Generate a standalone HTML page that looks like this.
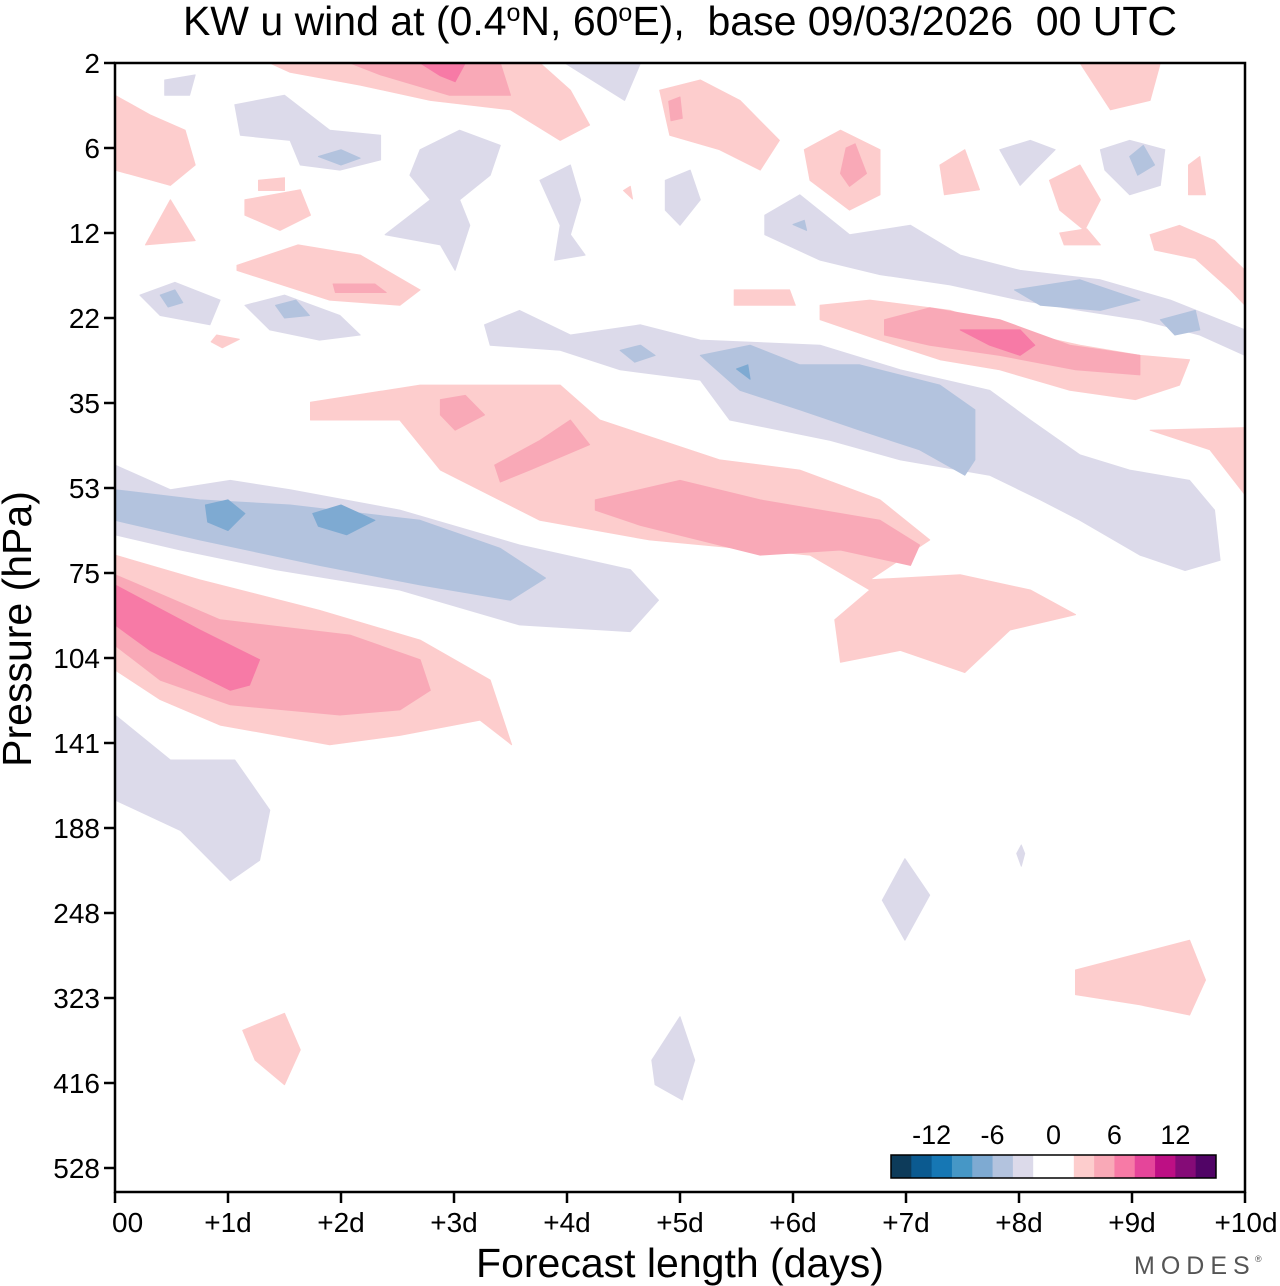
<!DOCTYPE html>
<html><head><meta charset="utf-8">
<style>
html,body{margin:0;padding:0;background:#fff;}
svg{display:block;font-family:"Liberation Sans",sans-serif;}
</style></head>
<body>
<svg id="chart" width="1280" height="1286" viewBox="0 0 1280 1286" xmlns="http://www.w3.org/2000/svg">
<text x="680" y="35" font-size="41" text-anchor="middle" xml:space="preserve" style="white-space:pre">KW u wind at (0.4<tspan dy="-14" font-size="25">o</tspan><tspan dy="14">N, 60</tspan><tspan dy="-14" font-size="25">o</tspan><tspan dy="14">E),  base 09/03/2026  00 UTC</tspan></text>
<g id="contours"></g>
<rect x="115" y="63" width="1130" height="1129" fill="none" stroke="#000" stroke-width="2.5"/>
<g id="axes"></g>
<g id="colorbar"></g>
<text transform="translate(31,629) rotate(-90)" font-size="41" text-anchor="middle">Pressure (hPa)</text>
<text x="680" y="1277" font-size="41" text-anchor="middle">Forecast length (days)</text>
<text x="1134" y="1274" font-size="25" fill="#555" letter-spacing="6">MODES</text>
<text x="1255" y="1262" font-size="9" fill="#555">®</text>
</svg>
<script>
const xTickLabels=["00","+1d","+2d","+3d","+4d","+5d","+6d","+7d","+8d","+9d","+10d"];
const xTickDays=[0,1,2,3,4,5,6,7,8,9,10];
const yTickLabels=["2","6","12","22","35","53","75","104","141","188","248","323","416","528"];
const cbLevels=[-16,-14,-12,-10,-8,-6,-4,-2,0,2,4,6,8,10,12,14,16];
const cbColors=["#0d3b5a","#0b5a90","#1677b4","#4697c6","#7eaad2","#b3c3de","#dcdaea","#ffffff","#ffffff","#fdcdcd","#f9a9b7","#f77aa6","#e5459a","#bd0f84","#850b77","#510466"];
const cbTickValues=[-12,-6,0,6,12];
const regLavender=[
[[0,4.73],[0.49,5.02],[1.02,4.91],[1.55,5.02],[2.52,5.26],[3.58,5.67],[4.56,5.96],[4.81,6.32],[4.56,6.69],[3.58,6.61],[2.52,6.2],[1.42,5.96],[0.58,5.73],[0,5.55]],
[[0,7.67],[0.49,8.2],[1.06,8.2],[1.37,8.79],[1.28,9.38],[1.02,9.62],[0.58,9.03],[0,8.67]],
[[3.27,3.08],[3.58,2.91],[4.03,3.2],[4.65,3.08],[5.18,3.26],[6.24,3.32],[6.95,3.61],[7.74,3.85],[8.1,4.2],[8.54,4.61],[8.98,4.79],[9.51,4.91],[9.73,5.26],[9.78,5.85],[9.47,5.97],[9.07,5.79],[8.54,5.38],[8.19,5.14],[7.74,4.85],[6.95,4.67],[6.33,4.44],[5.44,4.2],[5.18,3.73],[4.47,3.61],[3.94,3.38],[3.32,3.32]],
[[5.75,1.79],[6.06,1.55],[6.5,2.02],[7.04,1.91],[7.48,2.26],[8.01,2.44],[8.72,2.55],[9.34,2.79],[10,3.14],[10,3.44],[9.6,3.2],[9.07,3.02],[8.54,2.91],[8.01,2.79],[7.39,2.61],[6.77,2.49],[6.24,2.32],[5.75,2.02]],
[[0.44,0.2],[0.71,0.14],[0.66,0.38],[0.44,0.38]],
[[1.06,0.49],[1.5,0.38],[1.9,0.79],[2.35,0.85],[2.35,1.14],[1.99,1.26],[1.64,1.2],[1.55,0.91],[1.11,0.85]],
[[2.7,1.02],[3.05,0.79],[3.41,0.97],[3.32,1.32],[3.05,1.61],[3.14,1.91],[3.01,2.44],[2.88,2.14],[2.39,2.02],[2.79,1.61],[2.61,1.32]],
[[3.76,1.38],[4.03,1.2],[4.12,1.61],[4.03,2.02],[4.16,2.26],[3.89,2.32],[3.94,1.91]],
[[3.98,0],[4.65,0],[4.51,0.44]],
[[4.87,1.38],[5.09,1.26],[5.18,1.61],[5,1.91],[4.87,1.73]],
[[7.83,1.02],[8.1,0.91],[8.32,1.02],[8.14,1.26],[8.01,1.44]],
[[8.72,1.02],[8.98,0.91],[9.29,1.02],[9.25,1.44],[8.98,1.55],[8.76,1.26]],
[[0.22,2.73],[0.53,2.58],[0.93,2.79],[0.84,3.08],[0.4,2.97]],
[[1.15,2.85],[1.5,2.73],[1.99,2.97],[2.17,3.2],[1.81,3.26],[1.37,3.14]],
[[6.79,9.85],[6.99,9.36],[7.21,9.79],[6.99,10.32]],
[[4.75,11.73],[5,11.22],[5.13,11.73],[5.02,12.2],[4.78,12.02]],
[[7.98,9.3],[8.02,9.2],[8.05,9.3],[8.02,9.45]]
];
const regBlue=[
[[0,5.02],[0.75,5.14],[1.55,5.2],[2.7,5.38],[3.41,5.71],[3.81,6.06],[3.5,6.32],[2.7,6.14],[1.81,5.91],[0.75,5.61],[0,5.38]],
[[5.18,3.44],[5.62,3.32],[6.06,3.55],[6.59,3.55],[7.3,3.79],[7.61,4.08],[7.61,4.67],[7.52,4.85],[7.12,4.55],[6.59,4.32],[6.06,4.08],[5.53,3.85]],
[[7.96,2.67],[8.54,2.55],[9.07,2.79],[8.72,2.91],[8.19,2.85]],
[[9.25,3.02],[9.56,2.91],[9.6,3.14],[9.38,3.2]],
[[4.47,3.38],[4.65,3.32],[4.78,3.44],[4.6,3.52]],
[[0.4,2.73],[0.53,2.67],[0.6,2.82],[0.47,2.87]],
[[1.42,2.85],[1.6,2.79],[1.72,2.97],[1.5,3.0]],
[[1.8,1.1],[2.0,1.02],[2.17,1.12],[2.0,1.2]],
[[8.98,1.1],[9.1,0.97],[9.2,1.2],[9.05,1.32]],
[[6.0,1.9],[6.1,1.85],[6.12,1.97]]
];
const regBlueDark=[
[[0.8,5.2],[1.0,5.14],[1.15,5.3],[1.0,5.5],[0.82,5.4]],
[[1.75,5.3],[2.0,5.2],[2.3,5.38],[2.05,5.55],[1.8,5.45]],
[[5.5,3.6],[5.6,3.55],[5.62,3.72]]
];
const regPink1=[
[[0,5.79],[0.75,6.08],[1.81,6.44],[2.7,6.79],[3.32,7.26],[3.51,8.02],[3.23,7.73],[2.52,7.91],[1.9,8.02],[0.93,7.79],[0.4,7.49],[0,7.14]],
[[1.73,3.99],[2.7,3.79],[3.94,3.79],[4.29,4.2],[5.35,4.67],[6.06,4.79],[6.77,5.14],[7.21,5.61],[6.68,6.08],[7.48,6.02],[8.1,6.2],[8.5,6.49],[7.92,6.67],[7.52,7.17],[6.95,6.91],[6.42,7.05],[6.37,6.55],[6.68,6.2],[6.15,5.79],[4.73,5.61],[3.76,5.38],[2.88,4.79],[2.52,4.2],[1.73,4.2]],
[[6.24,2.85],[6.68,2.79],[7.39,2.91],[7.92,3.14],[8.54,3.32],[9.07,3.44],[9.51,3.49],[9.42,3.79],[9.03,3.96],[8.45,3.85],[7.83,3.61],[7.3,3.49],[6.77,3.26],[6.24,3.02]],
[[9.16,4.32],[10,4.29],[10,5.08],[9.69,4.55]],
[[1.37,0],[3.76,0],[4.03,0.32],[4.2,0.73],[3.94,0.91],[3.5,0.55],[2.79,0.44],[2.17,0.26],[1.55,0.11]],
[[0,0.38],[0.31,0.61],[0.62,0.79],[0.71,1.2],[0.49,1.44],[0,1.26]],
[[0.27,2.14],[0.49,1.61],[0.71,2.09]],
[[1.15,1.61],[1.64,1.49],[1.73,1.79],[1.46,1.97],[1.15,1.79]],
[[1.27,1.38],[1.5,1.35],[1.5,1.5],[1.27,1.5]],
[[1.08,2.38],[1.62,2.14],[2.17,2.26],[2.7,2.67],[2.52,2.85],[1.9,2.79],[1.08,2.44]],
[[4.82,0.32],[5.18,0.2],[5.53,0.44],[5.88,0.91],[5.71,1.26],[5.35,1.02],[4.91,0.85]],
[[6.1,1.02],[6.42,0.79],[6.77,1.02],[6.77,1.55],[6.5,1.73],[6.15,1.38]],
[[7.3,1.2],[7.52,1.02],[7.65,1.49],[7.34,1.55]],
[[8.27,1.38],[8.54,1.2],[8.72,1.61],[8.58,1.97],[8.36,1.73]],
[[8.36,2.0],[8.6,1.95],[8.72,2.14],[8.4,2.14]],
[[9.16,2.02],[9.42,1.91],[9.73,2.09],[10,2.44],[10,2.85],[9.87,2.67],[9.56,2.3],[9.2,2.2]],
[[8.54,0],[9.25,0],[9.16,0.44],[8.81,0.55]],
[[9.5,1.2],[9.6,1.1],[9.65,1.55],[9.5,1.55]],
[[5.48,2.67],[5.97,2.67],[6.02,2.85],[5.48,2.85]],
[[0.9,3.2],[1.1,3.25],[0.95,3.35],[0.85,3.28]],
[[8.5,10.67],[9.51,10.32],[9.65,10.79],[9.51,11.2],[9.07,11.08],[8.5,10.96]],
[[1.13,11.38],[1.5,11.18],[1.64,11.61],[1.5,12.02],[1.24,11.73]],
[[4.5,1.5],[4.56,1.45],[4.58,1.6]]
];
const regPink2=[
[[0,6.02],[0.93,6.55],[2.08,6.73],[2.7,7.02],[2.79,7.38],[2.52,7.61],[1.99,7.67],[1.02,7.55],[0.4,7.26],[0,6.85]],
[[4.25,5.14],[5,4.91],[5.71,5.14],[6.77,5.38],[7.12,5.67],[7.04,5.91],[6.42,5.73],[5.71,5.79],[4.65,5.44],[4.25,5.26]],
[[2.88,3.96],[3.1,3.91],[3.27,4.14],[3.01,4.32],[2.88,4.14]],
[[3.36,4.73],[3.76,4.44],[4.03,4.2],[4.2,4.49],[3.67,4.79],[3.41,4.93]],
[[6.81,3.02],[7.21,2.88],[7.83,3.02],[8.45,3.32],[9.07,3.44],[9.07,3.67],[8.5,3.61],[7.83,3.44],[7.21,3.32],[6.81,3.2]],
[[2.08,0],[3.41,0],[3.5,0.38],[2.96,0.38],[2.35,0.14]],
[[6.47,1.0],[6.55,0.95],[6.65,1.3],[6.5,1.45],[6.42,1.3]],
[[4.9,0.45],[5.0,0.4],[5.02,0.65],[4.92,0.68]],
[[1.93,2.6],[2.3,2.6],[2.4,2.7],[1.95,2.7]]
];
const regPink3=[
[[0,6.14],[0.75,6.67],[1.28,7.02],[1.19,7.32],[1.02,7.38],[0.31,6.91],[0,6.61]],
[[7.48,3.14],[8.01,3.14],[8.14,3.32],[8.01,3.44],[7.74,3.32]],
[[2.7,0],[3.1,0],[3.01,0.22],[2.88,0.15]]
];
const regionSets=[[-3,regLavender],[-5,regBlue],[-7,regBlueDark],[3,regPink1],[5,regPink2],[7,regPink3]];

const X0=115,X1=1245,Y0=63,YSTEP=85;
function xScale(d){return X0+(X1-X0)*d/10;}
function yScale(i){return Y0+YSTEP*i;}
function colorFor(v){for(let k=0;k<cbColors.length;k++){if(v>=cbLevels[k]&&v<cbLevels[k+1])return cbColors[k];}return cbColors[cbColors.length-1];}
const NS="http://www.w3.org/2000/svg";
const cg=document.getElementById('contours');
regionSets.forEach(([val,polys],si)=>{
  polys.forEach((poly,pi)=>{
    const p=document.createElementNS(NS,'polygon');
    p.setAttribute('points',poly.map(([d,i])=>xScale(d).toFixed(1)+','+Math.min(1192,yScale(i)).toFixed(1)).join(' '));
    p.setAttribute('fill',colorFor(val));
    p.setAttribute('stroke',colorFor(val));
    p.setAttribute('stroke-width','1');
    p.setAttribute('stroke-linejoin','round');
    
    
    cg.appendChild(p);
  });
});
const ag=document.getElementById('axes');
xTickDays.forEach((d,k)=>{
  const x=xScale(d);
  const l=document.createElementNS(NS,'line');
  l.setAttribute('x1',x);l.setAttribute('x2',x);l.setAttribute('y1',1192);l.setAttribute('y2',1203);
  l.setAttribute('stroke','#000');l.setAttribute('stroke-width','2.5');
  
  
  ag.appendChild(l);
  const t=document.createElementNS(NS,'text');
  t.setAttribute('x',k===10?1246:(k===0?112:x));t.setAttribute('y',1232);t.setAttribute('font-size','28');
  t.setAttribute('text-anchor',k===0?'start':'middle');
  t.textContent=xTickLabels[k];
  
  
  ag.appendChild(t);
});
yTickLabels.forEach((lab,i)=>{
  const y=yScale(i);
  const l=document.createElementNS(NS,'line');
  l.setAttribute('x1',104);l.setAttribute('x2',115);l.setAttribute('y1',y);l.setAttribute('y2',y);
  l.setAttribute('stroke','#000');l.setAttribute('stroke-width','2.5');
  
  
  ag.appendChild(l);
  const t=document.createElementNS(NS,'text');
  t.setAttribute('x',100);t.setAttribute('y',y+10);t.setAttribute('font-size','28');t.setAttribute('text-anchor','end');
  t.textContent=lab;
  
  
  ag.appendChild(t);
});
const cb=document.getElementById('colorbar');
const CBX0=891,CBX1=1216,CBY=1155,CBH=23;
function cbScale(v){return CBX0+(CBX1-CBX0)*(v-cbLevels[0])/(cbLevels[cbLevels.length-1]-cbLevels[0]);}
cbColors.forEach((c,k)=>{
  const r=document.createElementNS(NS,'rect');
  r.setAttribute('x',cbScale(cbLevels[k]));r.setAttribute('y',CBY);
  r.setAttribute('width',cbScale(cbLevels[k+1])-cbScale(cbLevels[k])+0.5);r.setAttribute('height',CBH);
  r.setAttribute('fill',c);
  
  
  cb.appendChild(r);
});
const fr=document.createElementNS(NS,'rect');
fr.setAttribute('x',CBX0);fr.setAttribute('y',CBY);fr.setAttribute('width',CBX1-CBX0);fr.setAttribute('height',CBH);
fr.setAttribute('fill','none');fr.setAttribute('stroke','#000');fr.setAttribute('stroke-width','1.5');


cb.appendChild(fr);
cbTickValues.forEach(v=>{
  const t=document.createElementNS(NS,'text');
  t.setAttribute('x',cbScale(v));t.setAttribute('y',1144);t.setAttribute('font-size','27');t.setAttribute('text-anchor','middle');
  t.textContent=String(v);
  
  
  cb.appendChild(t);
});
</script>
</body></html>
